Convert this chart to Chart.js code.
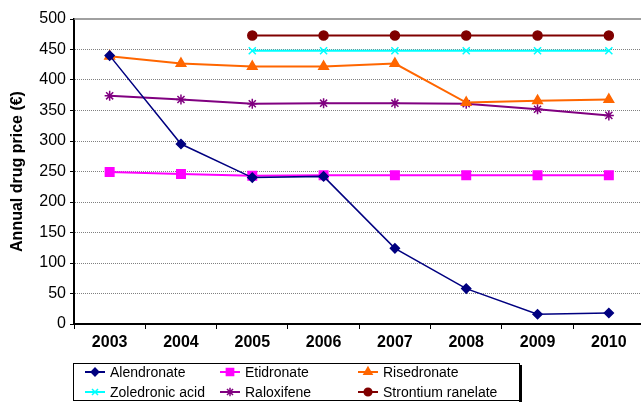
<!DOCTYPE html>
<html><head><meta charset="utf-8">
<script src="https://cdn.jsdelivr.net/npm/chart.js@4/dist/chart.umd.min.js"></script>
<style>html,body{margin:0;padding:0;background:#fff;overflow:hidden;width:641px;height:402px;} canvas{display:block;}</style>
</head><body>
<canvas id="c" width="652" height="402"></canvas>
<script>
const years = ['2003', '2004', '2005', '2006', '2007', '2008', '2009', '2010'];
const alendronate = [440, 295, 240, 242, 124, 58, 16, 18];
const etidronate = [249, 246, 243, 244, 244, 244, 244, 244];
const risedronate = [439, 427, 422, 422, 427, 363, 366, 368];
const zoledronicAcid = [null, null, 448, 448, 448, 448, 448, 448];
const raloxifene = [374, 368, 361, 362, 362, 361, 352, 342];
const strontiumRanelate = [null, null, 473, 473, 473, 473, 473, 473];
const yTicks = [0, 50, 100, 150, 200, 250, 300, 350, 400, 450, 500];

const FONT = '"Liberation Sans", Arial, sans-serif';

function ds(label, data, color, style, radius, lw) {
  return {
    label, data,
    borderColor: color, backgroundColor: color,
    pointBackgroundColor: color, pointBorderColor: color,
    pointStyle: style, pointRadius: radius, pointBorderWidth: 1.5,
    borderWidth: lw, tension: 0, spanGaps: false
  };
}

const datasets = [
  ds('Alendronate', alendronate, '#000080', 'rectRot', 4.5, 1.5),
  ds('Etidronate', etidronate, '#FF00FF', 'rect', 6, 2),
  ds('Risedronate', risedronate, '#FF6600', 'triangle', 5.5, 2),
  ds('Zoledronic acid', zoledronicAcid, '#00FFFF', 'crossRot', 5, 2),
  ds('Raloxifene', raloxifene, '#800080', 'star', 5, 2),
  ds('Strontium ranelate', strontiumRanelate, '#800000', 'circle', 4.5, 2)
];

const topBorder = {
  id: 'topBorder',
  beforeDatasetsDraw(chart) {
    const a = chart.chartArea, ctx = chart.ctx;
    ctx.save();
    ctx.strokeStyle = '#808080'; ctx.lineWidth = 1.5;
    ctx.beginPath(); ctx.moveTo(a.left, a.top); ctx.lineTo(a.right, a.top); ctx.stroke();
    ctx.restore();
  }
};

const boxLegend = {
  id: 'boxLegend',
  afterDraw(chart) {
    const ctx = chart.ctx;
    ctx.save();
    ctx.strokeStyle = '#000'; ctx.lineWidth = 1;
    ctx.strokeRect(73.5, 363.5, 446, 37);
    ctx.fillStyle = '#000'; ctx.fillRect(519, 365, 3, 37);
    const cols = [85, 220, 358], rows = [372, 392];
    chart.data.datasets.forEach((d, i) => {
      const x = cols[i % 3], y = rows[Math.floor(i / 3)];
      ctx.strokeStyle = d.borderColor; ctx.lineWidth = 2;
      ctx.beginPath(); ctx.moveTo(x, y); ctx.lineTo(x + 20, y); ctx.stroke();
      ctx.fillStyle = d.pointBackgroundColor; ctx.strokeStyle = d.pointBorderColor; ctx.lineWidth = 1.5;
      Chart.helpers.drawPoint(ctx, {pointStyle: d.pointStyle, radius: d.pointRadius * 0.85, borderWidth: 1.5, rotation: 0}, x + 10, y);
      ctx.fillStyle = '#000'; ctx.font = '14px ' + FONT; ctx.textBaseline = 'middle'; ctx.textAlign = 'left';
      ctx.fillText(d.label, x + 25, y + 1.5);
    });
    ctx.restore();
  }
};

new Chart(document.getElementById('c'), {
  type: 'line',
  data: { labels: years, datasets },
  plugins: [topBorder, boxLegend],
  options: {
    responsive: false,
    animation: false,
    devicePixelRatio: 1,
    layout: { padding: { top: 19, right: 0, left: 0, bottom: 0 } },
    plugins: { legend: { display: false }, tooltip: { enabled: false } },
    scales: {
      x: {
        offset: true,
        afterFit(s) { s.height = 78; s.paddingLeft = 0; s.paddingRight = 0; },
        grid: { offset: true, drawOnChartArea: false, drawTicks: true, tickLength: 5, tickColor: '#000', tickWidth: 1 },
        border: { color: '#000', width: 2 },
        ticks: { color: '#000', font: { family: FONT, size: 16, weight: 'bold' }, padding: 4, maxRotation: 0 }
      },
      y: {
        min: 0, max: 500,
        afterFit(s) { s.width = 74; },
        afterBuildTicks(s) { s.ticks = yTicks.map(v => ({ value: v })); },
        grid: {
          color: c => (c.tick && (c.tick.value === 0 || c.tick.value === 500)) ? 'rgba(0,0,0,0)' : '#808080',
          tickColor: '#000', tickLength: 4, tickWidth: 1, lineWidth: 1
        },
        border: { color: '#000', width: 2, dash: [1, 1] },
        ticks: { color: '#000', font: { family: FONT, size: 16 }, padding: 4 },
        title: { display: true, text: 'Annual drug price (€)', color: '#000', font: { family: FONT, size: 16, weight: 'bold' }, padding: { top: 8, bottom: 0 } }
      }
    }
  }
});
</script>
</body></html>
